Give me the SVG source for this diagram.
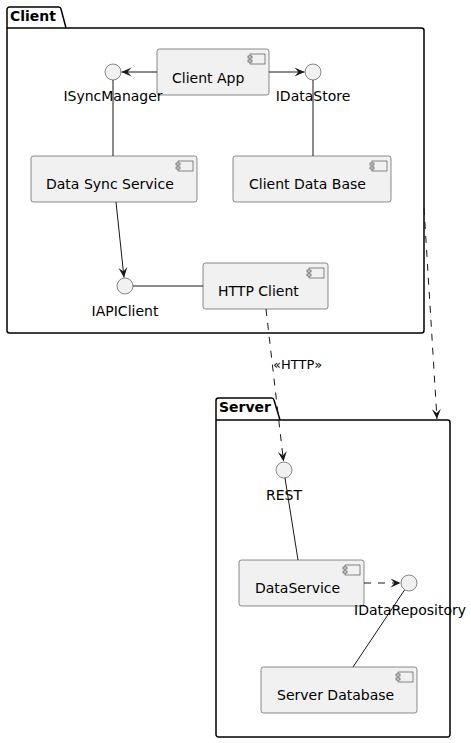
<svg xmlns="http://www.w3.org/2000/svg" width="471" height="743" viewBox="0 0 471 743">
<style>
text{font-family:"DejaVu Sans","Liberation Sans",sans-serif;fill:#000}
.lbl{font-size:14px}
.pk{font-size:14px;font-weight:bold}
.st{font-size:13px}
.box{fill:#F1F1F1;stroke:#181818;stroke-width:0.5}
.ico{fill:#F1F1F1;stroke:#181818;stroke-width:0.5}
.if{fill:#F1F1F1;stroke:#181818;stroke-width:0.5}
.pkg{fill:none;stroke:#000;stroke-width:1.5}
.ln{fill:none;stroke:#181818;stroke-width:1}
.dash{stroke-dasharray:7,7}
</style>
<defs>
<marker id="arr" viewBox="-11 -6 12 12" refX="0" refY="0" markerWidth="12" markerHeight="12" markerUnits="userSpaceOnUse" orient="auto">
<path d="M0,0 L-10,-4.5 L-6,0 L-10,4.5 Z" fill="#181818" stroke="none"/>
</marker>
<g id="cicon">
<rect x="-19" y="5" width="15" height="10" class="ico"/>
<rect x="-21" y="7" width="4" height="2" class="ico"/>
<rect x="-21" y="11" width="4" height="2" class="ico"/>
</g>
</defs>

<g id="pkg-client">
<path class="pkg" d="M9.5,7 L58.5,7 A2.5,2.5 0 0 1 61,9 L66,28 L421.5,28 A2.5,2.5 0 0 1 424,30.5 L424,330.5 A2.5,2.5 0 0 1 421.5,333 L9.5,333 A2.5,2.5 0 0 1 7,330.5 L7,9.5 A2.5,2.5 0 0 1 9.5,7 Z"/>
<line class="pkg" x1="7" y1="28" x2="66" y2="28"/>
<text class="pk" x="10" y="21">Client</text>
</g>

<g id="pkg-server">
<path class="pkg" d="M218.5,398 L271.5,398 A2.5,2.5 0 0 1 274,400 L280,420 L447.5,420 A2.5,2.5 0 0 1 450,422.5 L450,734.5 A2.5,2.5 0 0 1 447.5,737 L218.5,737 A2.5,2.5 0 0 1 216,734.5 L216,400.5 A2.5,2.5 0 0 1 218.5,398 Z"/>
<line class="pkg" x1="216" y1="420" x2="280" y2="420"/>
<text class="pk" x="219" y="412">Server</text>
</g>

<g id="client-app">
<rect class="box" x="157" y="49" width="112" height="46" rx="2.5"/>
<use href="#cicon" x="269" y="49"/>
<text class="lbl" x="172" y="83">Client App</text>
</g>

<g id="isyncmanager">
<circle class="if" cx="113" cy="72" r="8"/>
<text class="lbl" x="113" y="101" text-anchor="middle">ISyncManager</text>
</g>

<g id="idatastore">
<circle class="if" cx="313" cy="72" r="8"/>
<text class="lbl" x="313" y="101" text-anchor="middle">IDataStore</text>
</g>

<g id="data-sync-service">
<rect class="box" x="31" y="156" width="166" height="46" rx="2.5"/>
<use href="#cicon" x="197" y="156"/>
<text class="lbl" x="46" y="189">Data Sync Service</text>
</g>

<g id="client-data-base">
<rect class="box" x="233" y="156" width="158" height="46" rx="2.5"/>
<use href="#cicon" x="391" y="156"/>
<text class="lbl" x="249" y="189">Client Data Base</text>
</g>

<g id="iapiclient">
<circle class="if" cx="125" cy="286" r="8"/>
<text class="lbl" x="125" y="316" text-anchor="middle">IAPIClient</text>
</g>

<g id="http-client">
<rect class="box" x="203" y="263" width="125" height="46" rx="2.5"/>
<use href="#cicon" x="328" y="263"/>
<text class="lbl" x="218" y="296">HTTP Client</text>
</g>

<g id="rest">
<circle class="if" cx="284" cy="470" r="8"/>
<text class="lbl" x="284" y="500" text-anchor="middle">REST</text>
</g>

<g id="dataservice">
<rect class="box" x="239" y="560" width="125" height="46" rx="2.5"/>
<use href="#cicon" x="364" y="560"/>
<text class="lbl" x="255" y="593">DataService</text>
</g>

<g id="idatarepository">
<circle class="if" cx="409" cy="583" r="8"/>
<text class="lbl" x="410" y="615" text-anchor="middle">IDataRepository</text>
</g>

<g id="server-database">
<rect class="box" x="261" y="667" width="156" height="46" rx="2.5"/>
<use href="#cicon" x="417" y="667"/>
<text class="lbl" x="277" y="700">Server Database</text>
</g>

<g id="connectors">
<line class="ln" x1="157" y1="72" x2="121.5" y2="72" marker-end="url(#arr)"/>
<line class="ln" x1="269" y1="72" x2="304.5" y2="72" marker-end="url(#arr)"/>
<line class="ln" x1="113" y1="80" x2="113" y2="156"/>
<line class="ln" x1="313" y1="80" x2="313" y2="156"/>
<line class="ln" x1="116" y1="202" x2="124" y2="277.5" marker-end="url(#arr)"/>
<line class="ln" x1="133" y1="286" x2="203" y2="286"/>
<line class="ln dash" x1="266" y1="309" x2="283.5" y2="461.5" marker-end="url(#arr)"/>
<text class="st" x="273" y="369">«HTTP»</text>
<line class="ln dash" x1="424" y1="208" x2="437" y2="419" marker-end="url(#arr)"/>
<line class="ln" x1="285" y1="478" x2="298" y2="560"/>
<line class="ln dash" x1="364" y1="583" x2="400.5" y2="583" marker-end="url(#arr)"/>
<line class="ln" x1="404.5" y1="590" x2="353" y2="667"/>
</g>
</svg>
